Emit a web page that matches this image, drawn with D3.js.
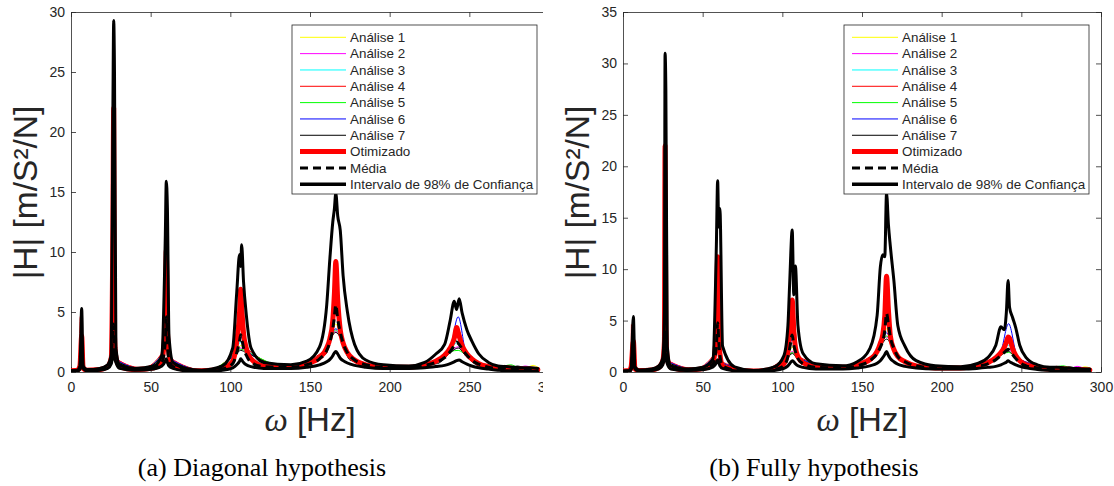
<!DOCTYPE html>
<meta charset="utf-8">
<style>
body { margin: 0; background: #fff; }
</style>
<svg width="1114" height="486"></svg>
<script src="https://d3js.org/d3.v7.min.js"></script>
<script>

// ---- shared labels / ticks ----
var legendLabels = ["Análise 1", "Análise 2", "Análise 3", "Análise 4", "Análise 5", "Análise 6", "Análise 7",
                    "Otimizado", "Média", "Intervalo de 98% de Confiança"];
var analysisColors = ["#ffff00", "#ff00ff", "#00ffff", "#ff0000", "#00ff00", "#0000ff", "#000000"];
var xTicks = [0, 50, 100, 150, 200, 250, 300];
var yTicksA = [0, 5, 10, 15, 20, 25, 30];
var yTicksB = [0, 5, 10, 15, 20, 25, 30, 35];
var captions = ["(a) Diagonal hypothesis", "(b) Fully hypothesis"];

// ---- (a) diagonal hypothesis ----
var freqA = [0, 4, 5.6, 6.7, 7.6, 10, 18, 23, 25.3, 26.3,
  26.8, 27.3, 28.2, 30.5, 40, 52, 57, 59.2, 59.8, 60.5,
  61.5, 64, 72, 82, 95, 101.5, 104, 105.8, 106.5, 107.1,
  108.3, 110, 113, 121, 138, 148, 156, 160.5, 162.5, 164.3,
  165.3, 166.2, 167.4, 169, 170.8, 173.5, 178, 185, 196, 212,
  222, 229, 234.5, 238, 240.5, 242, 243.6, 245.5, 248.5, 251.5,
  256, 262, 268, 273, 278, 283, 288, 293];
var upperA = [0.1, 0.15, 0.5, 5.3, 0.5, 0.2, 0.3, 0.6, 1.5, 22,
  29.3, 25, 2, 0.6, 0.3, 0.5, 1.4, 11.4, 15.9, 13.7,
  3, 0.8, 0.3, 0.15, 0.5, 2.0, 6.6, 9.8, 8.8, 10.6,
  7.5, 4.8, 2.0, 0.8, 0.6, 0.9, 2.1, 5.6, 9.5, 12.5,
  13.6, 14.9, 13.0, 11.8, 8.0, 5.0, 2.3, 1.0, 0.6, 0.5,
  0.8, 1.5, 2.3, 4.3, 5.9, 5.2, 6.1, 4.9, 3.5, 2.6,
  1.5, 0.8, 0.5, 0.45, 0.4, 0.35, 0.35, 0.3];
var lowerA = [0.05, 0.08, 0.2, 1.0, 0.3, 0.1, 0.15, 0.3, 0.7, 1.5,
  1.8, 1.2, 0.8, 0.3, 0.15, 0.25, 0.5, 0.9, 1.1, 0.8,
  0.5, 0.3, 0.1, 0.05, 0.15, 0.35, 0.6, 0.9, 1.1, 1.0,
  0.8, 0.6, 0.45, 0.3, 0.3, 0.4, 0.6, 0.85, 1.05, 1.35,
  1.6, 1.7, 1.5, 1.15, 0.95, 0.75, 0.55, 0.4, 0.3, 0.3,
  0.35, 0.45, 0.55, 0.7, 0.85, 0.95, 1.0, 0.85, 0.65, 0.5,
  0.35, 0.25, 0.15, 0.1, 0.1, 0.08, 0.05, 0.05];
var otimA = [0.1, 0.15, 0.5, 3.0, 0.3, 0.15, 0.2, 0.45, 1.2, 12,
  22, 3, 1.2, 0.45, 0.2, 0.35, 1.0, 4, 10.1, 3.5,
  1.5, 0.5, 0.2, 0.1, 0.3, 0.9, 2.5, 5.0, 6.9, 5.5,
  3.2, 2.0, 1.1, 0.5, 0.45, 0.7, 1.2, 2.0, 2.8, 4.3,
  6.5, 9.2, 6.0, 3.5, 2.4, 1.6, 1.0, 0.6, 0.4, 0.4,
  0.6, 0.9, 1.4, 2.0, 2.8, 3.7, 3.0, 2.2, 1.5, 1.1,
  0.7, 0.45, 0.3, 0.35, 0.3, 0.25, 0.25, 0.2];
var mediaA = [0.08, 0.12, 0.4, 2.5, 0.4, 0.15, 0.2, 0.4, 1.0, 3.5,
  4.0, 2.5, 1.0, 0.4, 0.2, 0.35, 0.8, 2.5, 4.6, 2.3,
  1.0, 0.45, 0.15, 0.08, 0.25, 0.7, 1.6, 2.6, 3.1, 2.8,
  2.0, 1.4, 0.8, 0.45, 0.4, 0.6, 1.1, 1.8, 2.5, 3.6,
  4.6, 5.6, 4.4, 3.3, 2.4, 1.6, 1.0, 0.6, 0.4, 0.4,
  0.55, 0.8, 1.2, 1.7, 2.2, 2.5, 2.3, 1.9, 1.4, 1.0,
  0.65, 0.4, 0.3, 0.35, 0.3, 0.3, 0.25, 0.2];

var anFreqA = [0, 5, 5.8, 9, 20, 25.5, 26.8, 28.5, 45, 58,
  59.8, 62, 85, 103, 106.5, 110, 135, 160, 163.5, 166.2,
  169, 175, 200, 230, 238, 243, 248, 256, 268, 272,
  276, 280, 285, 290, 293];
var an1A = [0.1, 0.15, 1.0, 0.2, 0.3, 1.3, 8, 1.0, 0.3, 1.6, 3, 1.1, 0.12, 1.6, 2.2, 1.8, 0.45, 1.7, 3.2, 4.0, 3.1, 1.2, 0.35, 0.9, 1.8, 3.3, 1.5, 0.7, 0.35, 0.3, 0.4, 0.35, 0.3, 0.55, 0.4];
var an2A = [0.1, 0.2, 1.5, 0.25, 0.3, 1.4, 15, 1.1, 0.3, 1.7, 5, 1.2, 0.1, 1.5, 2.0, 1.7, 0.4, 1.6, 3.0, 3.4, 2.9, 1.1, 0.3, 0.8, 1.7, 2.1, 1.4, 0.6, 0.3, 0.35, 0.3, 0.3, 0.5, 0.35, 0.3];
var an3A = [0.1, 0.15, 1.2, 0.2, 0.3, 1.4, 18, 1.0, 0.3, 1.7, 4, 1.1, 0.15, 1.7, 2.5, 1.9, 0.45, 1.8, 3.3, 5.0, 3.3, 1.2, 0.35, 0.9, 1.9, 2.5, 1.5, 0.7, 0.3, 0.3, 0.35, 0.3, 0.3, 0.3, 0.25];
var an4A = [0.1, 0.2, 4.6, 0.3, 0.3, 1.5, 22, 1.1, 0.35, 1.8, 10, 1.2, 0.15, 1.8, 6.0, 2.0, 0.5, 1.9, 3.5, 9.0, 3.5, 1.3, 0.4, 1.0, 2.0, 3.5, 1.6, 0.8, 0.4, 0.55, 0.45, 0.4, 0.35, 0.3, 0.3];
var an5A = [0.1, 0.15, 0.8, 0.2, 0.3, 1.2, 6, 0.9, 0.3, 1.5, 2.5, 1.0, 0.12, 1.5, 1.9, 1.7, 0.45, 1.6, 3.0, 3.5, 3.0, 1.1, 0.35, 0.8, 1.7, 1.8, 1.4, 0.6, 0.35, 0.5, 0.6, 0.4, 0.3, 0.3, 0.25];
var an6A = [0.1, 0.15, 1.0, 0.2, 0.3, 1.3, 10, 1.0, 0.3, 1.6, 3.5, 1.1, 0.12, 1.6, 3.0, 1.8, 0.4, 1.7, 3.1, 3.6, 3.2, 1.2, 0.35, 1.0, 2.0, 4.6, 1.6, 0.8, 0.35, 0.3, 0.35, 0.45, 0.35, 0.3, 0.25];
var an7A = [0.1, 0.15, 0.8, 0.2, 0.3, 1.2, 4, 0.9, 0.3, 1.5, 2, 1.0, 0.1, 1.4, 1.8, 1.6, 0.4, 1.5, 2.9, 3.3, 2.9, 1.0, 0.3, 0.7, 1.6, 2.0, 1.3, 0.5, 0.3, 0.35, 0.3, 0.5, 0.35, 0.3, 0.3];

// ---- (b) fully hypothesis ----
var freqB = [0, 4, 5.1, 6.5, 7.5, 10, 18, 22.5, 25, 26,
  26.4, 26.9, 27.8, 30, 40, 51, 56.5, 58.6, 59.4, 60.1,
  60.8, 62.5, 70, 82, 95, 101, 103.5, 104.6, 106.2, 107.2,
  108.2, 109.8, 113, 121, 138, 147, 155, 159.5, 161.5, 163,
  164.3, 165.4, 166.6, 167.8, 170, 172.5, 177, 184, 196, 212,
  222, 229, 234, 237.2, 239.3, 240.6, 241.7, 242.6, 244.5, 246.5,
  249, 253, 260, 268, 273, 278, 283, 288, 293];
var upperB = [0.1, 0.15, 0.5, 5.4, 0.5, 0.2, 0.3, 0.6, 1.4, 6,
  31.0, 27.4, 2.5, 0.6, 0.3, 0.5, 1.3, 12.3, 18.6, 14.1,
  15.9, 2.5, 0.5, 0.15, 0.5, 1.6, 4.5, 8.6, 13.8, 7.5,
  10.3, 4.5, 1.8, 0.8, 0.6, 1.0, 2.3, 5.5, 10.2, 11.4,
  11.2, 17.4, 14.3, 12.2, 8.9, 4.5, 2.5, 1.1, 0.6, 0.5,
  0.8, 1.4, 2.6, 4.4, 4.1, 5.8, 8.9, 6.3, 5.3, 4.3,
  2.6, 1.4, 0.7, 0.45, 0.45, 0.4, 0.35, 0.3, 0.3];
var lowerB = [0.05, 0.08, 0.2, 1.0, 0.3, 0.1, 0.15, 0.3, 0.7, 1.4,
  2.0, 1.5, 0.8, 0.3, 0.15, 0.25, 0.5, 0.9, 1.2, 0.9,
  0.6, 0.35, 0.12, 0.05, 0.15, 0.35, 0.6, 0.8, 1.1, 1.0,
  0.8, 0.6, 0.45, 0.3, 0.3, 0.4, 0.6, 0.85, 1.1, 1.4,
  1.7, 2.0, 1.6, 1.3, 1.0, 0.75, 0.55, 0.4, 0.3, 0.3,
  0.35, 0.45, 0.55, 0.7, 0.85, 0.95, 1.1, 1.0, 0.85, 0.7,
  0.55, 0.4, 0.25, 0.15, 0.1, 0.1, 0.08, 0.05, 0.05];
var otimB = [0.1, 0.15, 0.5, 3.0, 0.3, 0.15, 0.2, 0.45, 1.1, 3,
  22, 4, 1.3, 0.45, 0.2, 0.35, 0.9, 4, 11.2, 3.5,
  1.8, 0.6, 0.25, 0.1, 0.3, 0.8, 2.0, 3.8, 7.0, 4.0,
  2.4, 1.5, 0.9, 0.5, 0.45, 0.7, 1.2, 2.0, 2.8, 3.6,
  5.5, 9.3, 6.0, 3.5, 2.2, 1.5, 1.0, 0.6, 0.4, 0.4,
  0.6, 0.9, 1.4, 1.9, 2.4, 2.9, 3.4, 3.3, 2.3, 1.6,
  1.1, 0.7, 0.45, 0.3, 0.35, 0.3, 0.25, 0.25, 0.2];
var mediaB = [0.08, 0.12, 0.4, 2.5, 0.4, 0.15, 0.2, 0.4, 1.0, 2.5,
  4.0, 3.0, 1.0, 0.4, 0.2, 0.35, 0.8, 2.5, 4.8, 3.0,
  1.6, 0.6, 0.2, 0.08, 0.25, 0.6, 1.5, 2.3, 3.6, 2.6,
  2.0, 1.3, 0.8, 0.45, 0.4, 0.6, 1.1, 1.8, 2.4, 3.0,
  4.0, 5.7, 4.6, 3.4, 2.3, 1.5, 1.0, 0.6, 0.4, 0.4,
  0.55, 0.8, 1.2, 1.6, 1.9, 2.1, 2.2, 2.1, 1.7, 1.3,
  0.9, 0.6, 0.4, 0.3, 0.35, 0.3, 0.3, 0.25, 0.2];

var anFreqB = [0, 5, 5.3, 9, 20, 25, 26.4, 28.5, 45, 57.5,
  59.4, 62, 85, 103, 106.2, 110, 135, 158, 162.5, 165.4,
  169, 175, 200, 228, 237, 242, 247.5, 256, 268, 272,
  276, 280, 285, 290, 293];
var an1B = [0.1, 0.15, 1.1, 0.2, 0.3, 1.2, 9, 1.0, 0.3, 1.6, 3.5, 0.9, 0.12, 1.5, 2.4, 1.4, 0.45, 1.6, 3.0, 4.2, 2.7, 1.1, 0.35, 0.9, 1.8, 3.0, 1.4, 0.8, 0.35, 0.3, 0.4, 0.35, 0.3, 0.5, 0.4];
var an2B = [0.1, 0.2, 1.6, 0.25, 0.3, 1.3, 14, 1.1, 0.3, 1.7, 5.5, 0.9, 0.1, 1.4, 2.0, 1.3, 0.4, 1.5, 2.9, 3.4, 2.6, 1.0, 0.3, 0.8, 1.7, 2.2, 1.3, 0.6, 0.3, 0.35, 0.3, 0.3, 0.55, 0.35, 0.3];
var an3B = [0.1, 0.15, 1.3, 0.2, 0.3, 1.3, 17, 1.0, 0.3, 1.7, 4.5, 0.9, 0.15, 1.6, 2.8, 1.4, 0.45, 1.7, 3.1, 5.0, 2.8, 1.1, 0.35, 0.9, 1.8, 2.6, 1.4, 0.7, 0.3, 0.3, 0.35, 0.3, 0.3, 0.3, 0.25];
var an4B = [0.1, 0.2, 4.6, 0.3, 0.3, 1.4, 22, 1.1, 0.35, 1.8, 11, 1.0, 0.15, 1.7, 7.0, 1.5, 0.5, 1.8, 3.3, 9.2, 3.0, 1.2, 0.4, 1.0, 2.0, 3.4, 1.5, 0.8, 0.4, 0.55, 0.45, 0.4, 0.35, 0.3, 0.3];
var an5B = [0.1, 0.15, 0.8, 0.2, 0.3, 1.1, 6, 0.9, 0.3, 1.5, 2.8, 0.8, 0.12, 1.4, 1.9, 1.3, 0.45, 1.5, 2.8, 3.5, 2.6, 1.0, 0.35, 0.8, 1.7, 1.9, 1.3, 0.6, 0.35, 0.5, 0.6, 0.45, 0.3, 0.3, 0.25];
var an6B = [0.1, 0.15, 1.0, 0.2, 0.3, 1.2, 11, 1.0, 0.3, 1.6, 3.8, 0.9, 0.12, 1.5, 3.2, 1.4, 0.4, 1.6, 3.0, 3.8, 2.8, 1.1, 0.35, 1.0, 2.0, 4.7, 1.5, 0.8, 0.35, 0.3, 0.35, 0.45, 0.35, 0.3, 0.25];
var an7B = [0.1, 0.15, 0.8, 0.2, 0.3, 1.1, 4.5, 0.9, 0.3, 1.5, 2.2, 0.8, 0.1, 1.3, 1.8, 1.2, 0.4, 1.4, 2.7, 3.2, 2.5, 1.0, 0.3, 0.7, 1.6, 2.0, 1.2, 0.5, 0.3, 0.35, 0.3, 0.5, 0.35, 0.3, 0.3];

var svg = d3.select("svg");
var axisColor = "#262626";
var sans = "'Liberation Sans', Arial, Helvetica, sans-serif";

function panel(p) {
  var x = d3.scaleLinear().domain([0, 300]).range([p.left, p.left + 478]),
      y = d3.scaleLinear().domain([0, p.yMax]).range([372, 12]);

  // the left figure was cropped on its right side
  svg.append("clipPath").attr("id", "crop" + p.id)
    .append("rect").attr("x", p.left - 80).attr("y", 0)
    .attr("width", p.cropRight - p.left + 80).attr("height", 486);
  svg.append("clipPath").attr("id", "plot" + p.id)
    .append("rect").attr("x", x(0)).attr("y", y(p.yMax))
    .attr("width", x(300) - x(0)).attr("height", y(0) - y(p.yMax));

  var g = svg.append("g").attr("clip-path", "url(#crop" + p.id + ")");

  // axes, ticks pointing inward, box on
  function style(a) {
    a.attr("font-family", sans).attr("font-size", 14);
    a.selectAll(".domain").attr("stroke", axisColor).attr("stroke-width", 0.8);
    a.selectAll(".tick line").attr("stroke", axisColor).attr("stroke-width", 0.8);
    a.selectAll(".tick text").attr("fill", axisColor);
  }
  g.append("g").attr("transform", "translate(0,372)")
    .call(d3.axisBottom(x).tickValues(xTicks).tickSize(-5).tickSizeOuter(0).tickPadding(10)).call(style);
  g.append("g").attr("transform", "translate(0,12)")
    .call(d3.axisTop(x).tickValues(xTicks).tickSize(-5).tickSizeOuter(0).tickFormat("")).call(style);
  g.append("g").attr("transform", "translate(" + x(0) + ",0)")
    .call(d3.axisLeft(y).tickValues(p.yTicks).tickSize(-5).tickSizeOuter(0).tickPadding(6)).call(style);
  g.append("g").attr("transform", "translate(" + x(300) + ",0)")
    .call(d3.axisRight(y).tickValues(p.yTicks).tickSize(-5).tickSizeOuter(0).tickFormat("")).call(style);

  var line = d3.line()
      .x(function(d) { return x(d[0]); })
      .y(function(d) { return y(d[1]); })
      .curve(d3.curveMonotoneX);

  var lines = g.append("g").attr("clip-path", "url(#plot" + p.id + ")")
      .attr("fill", "none").attr("stroke-linejoin", "round").attr("stroke-linecap", "round");

  p.analyses.forEach(function(vals, i) {
    lines.append("path").attr("d", line(d3.zip(p.anFreq, vals)))
      .attr("stroke", analysisColors[i]).attr("stroke-width", 1);
  });
  lines.append("path").attr("d", line(d3.zip(p.freq, p.otim)))
    .attr("stroke", "#ff0000").attr("stroke-width", 5);
  lines.append("path").attr("d", line(d3.zip(p.freq, p.media)))
    .attr("stroke", "#000").attr("stroke-width", 3).attr("stroke-dasharray", "8,5")
    .attr("stroke-linecap", "butt");
  lines.append("path").attr("d", line(d3.zip(p.freq, p.upper)))
    .attr("stroke", "#000").attr("stroke-width", 3);
  lines.append("path").attr("d", line(d3.zip(p.freq, p.lower)))
    .attr("stroke", "#000").attr("stroke-width", 3);

  // legend
  var lx = x(300) - 257, ly = 25;
  var leg = g.append("g");
  leg.append("rect").attr("x", lx).attr("y", ly).attr("width", 245).attr("height", 169)
    .attr("fill", "#fff").attr("stroke", axisColor).attr("stroke-width", 0.8);
  legendLabels.forEach(function(label, i) {
    var ry = 37.3 + i * 16.33;
    var s = leg.append("line").attr("x1", lx + 8).attr("x2", lx + 54)
      .attr("y1", ry).attr("y2", ry);
    if (i < 7) s.attr("stroke", analysisColors[i]).attr("stroke-width", 1);
    else if (i === 7) s.attr("stroke", "#ff0000").attr("stroke-width", 5);
    else if (i === 8) s.attr("stroke", "#000").attr("stroke-width", 3).attr("stroke-dasharray", "8,5");
    else s.attr("stroke", "#000").attr("stroke-width", 3.5);
    leg.append("text").attr("x", lx + 58).attr("y", ry + 4.7)
      .attr("font-family", sans).attr("font-size", 13.4).attr("fill", axisColor)
      .text(label);
  });

  // axis labels
  var xl = g.append("text").attr("x", (x(0) + x(300)) / 2).attr("y", 431)
    .attr("text-anchor", "middle").attr("font-family", sans).attr("font-size", 33).attr("fill", axisColor);
  xl.append("tspan").attr("font-family", "'Liberation Serif', 'DejaVu Serif', serif")
    .attr("font-style", "italic").text("ω");
  xl.append("tspan").text(" [Hz]");

  g.append("text").attr("transform", "translate(" + (x(0) - 34) + ",192.5) rotate(-90)")
    .attr("text-anchor", "middle").attr("font-family", sans).attr("font-size", 33.5).attr("fill", axisColor)
    .text("|H| [m/S²/N]");

  svg.append("text").attr("x", p.captionX).attr("y", 476)
    .attr("text-anchor", "middle").attr("font-family", "'Liberation Serif', 'Times New Roman', serif")
    .attr("font-size", 26).attr("fill", "#000").text(p.caption);
}

panel({id: "a", left: 71, cropRight: 543, yMax: 30, yTicks: yTicksA,
  freq: freqA, upper: upperA, lower: lowerA, otim: otimA, media: mediaA,
  anFreq: anFreqA, analyses: [an1A, an2A, an3A, an4A, an5A, an6A, an7A],
  caption: captions[0], captionX: 262});

panel({id: "b", left: 623, cropRight: 1114, yMax: 35, yTicks: yTicksB,
  freq: freqB, upper: upperB, lower: lowerB, otim: otimB, media: mediaB,
  anFreq: anFreqB, analyses: [an1B, an2B, an3B, an4B, an5B, an6B, an7B],
  caption: captions[1], captionX: 814});

</script>
